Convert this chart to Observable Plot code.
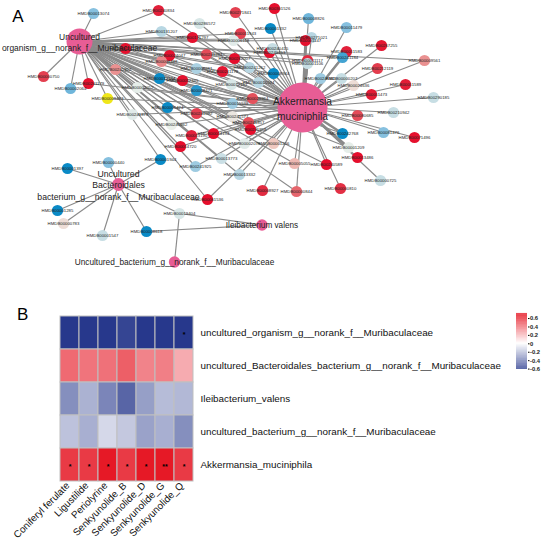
<!DOCTYPE html>
<html><head><meta charset="utf-8">
<script src="https://cdn.jsdelivr.net/npm/d3@7"></script>
<script src="https://cdn.jsdelivr.net/npm/@observablehq/plot@0.6"></script>
<style>
html,body{margin:0;padding:0;background:#fff}
#wrap{position:relative;width:550px;height:547px;overflow:hidden;font-family:"Liberation Sans",Arial,sans-serif}
#wrap svg{display:block;background:transparent;max-width:none}
#net,#heat,#leg{position:absolute}
#net{left:0;top:0}#heat{left:0;top:300px}#leg{left:510px;top:305px}
</style></head><body><div id="wrap"><div id="net"></div><div id="heat"></div><div id="leg"></div></div>
<script>
// Network hubs: layout position, size, label
const hubKeys=["A","U","B","I","C"];
const hubLabels=["Akkermansia\nmuciniphila","Uncultured\norganism_g__norank_f__Muribaculaceae","Uncultured\nBacteroidales\nbacterium_g__norank_f__Muribaculaceae","Ileibacterium valens","Uncultured_bacterium_g__norank_f__Muribaculaceae"];
const hubX=[302,79,118,261.5,174];
const hubY=[107,41,184,224.5,261.5];
const hubSize=[25,13,6.5,5.7,5.7];
const hubFontSize=[10.2,8.45,8.7,8.2,8.3];
const hubLineHeight=[1.47,1.3,1.32,1,1];
// Metabolite nodes
const metaboliteIds=["HMDB00013074","HMDB00240834","HMDB00271841","HMDB00301526","HMDB00286572","HMDB00131207","HMDB00011943","HMDB00001332","HMDB00131297","HMDB00006118","HMDB00241041","HMDB00024047","HMDB00001448","HMDB00241284","HMDB00262007","HMDB00240153","HMDB00240415","HMDB00241852","HMDB00008681","HMDB00241178","HMDB00241262","HMDB00008944","HMDB00012144","HMDB00052345","HMDB00008421","HMDB00002052","HMDB00012157","HMDB00015594","HMDB00241179","HMDB00000750","HMDB00002064","HMDB00009483","HMDB00029964","HMDB00015538","HMDB00006424","HMDB00241878","HMDB00241092","HMDB00241577","HMDB00241862","HMDB00241857","HMDB00241858","HMDB00013190","HMDB00014194","HMDB00014720","HMDB00002071","HMDB00001206","HMDB00001944","HMDB00000440","HMDB00001397","HMDB00013773","HMDB00241925","HMDB00013332","HMDB00008927","HMDB00061536","HMDB00001285","HMDB00000783","HMDB00001547","HMDB00008618","HMDB00019404","HMDB00005055","HMDB00000844","HMDB00240589","HMDB00000810","HMDB00013486","HMDB00000725","HMDB00001209","HMDB00008826","HMDB00011479","HMDB00271021","HMDB00001147","HMDB00011583","HMDB00241184","HMDB00267255","HMDB00009561","HMDB00011117","HMDB00001106","HMDB00212119","HMDB00241845","HMDB00000207","HMDB00024636","HMDB00011589","HMDB00011473","HMDB00290185","HMDB00080685","HMDB00210942","HMDB00242768","HMDB00081476","HMDB00071496"];
const layoutX=[93,158,235,274,199,161,240,270,192,233,125,169,161,206,234,269,272,115,196,222,249,273,159,182,196,137,231,258,88,43,70,107,252,232,167,132,196,232,171,248,250,191,213,180,244,273,160,108,67,221,195,239,262,207,57,63,102,146,179,294,296,326,340,357,380,348,308,346,311,305,346,342,381,424,307,307,377,320,341,353,405,371,433,357,393,342,383,414];
const layoutY=[13,10,12,8,23,31,33,28,37,40,48,55,61,54,58,52,48,69,68,71,67,73,78,80,90,87,84,82,83,76,88,98,98,103,107,114,113,116,124,122,129,135,133,146,143,143,159,162,168,158,166,174,190,199,210,223,235,231,213,163,191,164,188,157,180,147,18,27,37,40,51,57,45,60,60,63,68,78,78,85,84,94,97,115,112,133,132,137];
const metaboliteCorr=[-0.55,0.85,0.7,0.95,-0.1,-0.28,0.7,-1,0.95,-0.05,0.95,0.95,0.45,0.65,0.97,0.95,-0.2,0.42,-0.35,0.92,-0.28,-1,-1,0.95,-0.9,-0.03,-0.1,-0.28,0.95,0.7,-0.65,null,0.62,-0.42,-1,-0.05,0.7,0.06,0.0,0.62,0.97,0.85,0.97,0.97,-0.05,0.25,-1,-0.55,-1,-0.18,-0.42,-0.3,0.8,0.97,-1,0.12,-0.2,-1,-0.1,0.3,0.55,0.97,0.78,0.97,-0.2,-0.02,-0.65,-0.55,-0.28,0.95,0.85,-0.8,0.92,0.42,0.8,-0.2,0.72,-0.42,-0.2,0.12,0.88,0.88,-0.2,0.65,-0.2,-1,-0.55,0.95];
const metaboliteLinks=["U","AU","A","A","A","AU","AU","A","AU","AU","AU","AU","AU","AU","AU","AU","A","AU","AU","AU","AU","AU","AU","AU","AU","AU","AU","AU","AU","U","U","AU","AU","AU","AU","AU","AU","AU","AU","AU","AU","AU","AU","AU","AU","AU","UB","B","B","AU","AU","AU","A","AU","B","B","B","BI","BIC","AU","AU","AU","A","A","A","AU","A","A","AU","AU","A","AU","A","AU","AU","AU","A","A","A","A","A","A","A","A","A","AU","A","A"];
const strongLinks=["HMDB00242768","HMDB00011117","HMDB00001106","HMDB00001209","HMDB00241184","HMDB00001147"];
// Heatmap
const compounds=["Coniferyl ferulate","Ligustilide","Periolyrine","Senkyunolide_B","Senkyunolide_D","Senkyunolide_G","Senkyunolide_Q"];
const taxa=["uncultured_organism_g__norank_f__Muribaculaceae","uncultured_Bacteroidales_bacterium_g__norank_f__Muribaculaceae","Ileibacterium_valens","uncultured_bacterium_g__norank_f__Muribaculaceae","Akkermansia_muciniphila"];
const corrOrganism=[-0.62,-0.62,-0.62,-0.58,-0.62,-0.62,-0.62];
const corrBacteroidales=[0.41,0.38,0.39,0.44,0.34,0.35,0.23];
const corrIleibacterium=[-0.35,-0.24,-0.38,-0.48,-0.30,-0.21,-0.22];
const corrBacterium=[-0.19,-0.25,-0.12,-0.17,-0.29,-0.25,-0.35];
const corrAkkermansia=[0.54,0.54,0.63,0.54,0.63,0.63,0.54];
const starsOrganism=["","","","","","","*"];
const starsAkkermansia=["*","*","*","*","*","**","*"];
const legendTicks=[0.6,0.4,0.2,0,-0.2,-0.4,-0.6];

const font='"Liberation Sans",Arial,sans-serif';
const hubs=hubKeys.map((k,i)=>({k,label:hubLabels[i],x:hubX[i],y:hubY[i],size:hubSize[i],fs:hubFontSize[i],lh:hubLineHeight[i]}));
const hubBy=Object.fromEntries(hubs.map(h=>[h.k,h]));
const nodes=metaboliteIds.map((id,i)=>({id,x:layoutX[i],y:layoutY[i],v:metaboliteCorr[i],links:metaboliteLinks[i]}));
const edges=nodes.flatMap(n=>[...n.links].map(k=>({x1:n.x,y1:n.y,x2:hubBy[k].x,y2:hubBy[k].y,w:(k==="A"&&strongLinks.includes(n.id))?2.4:1.15})));

const net=Plot.plot({
  width:550,height:300,margin:0,style:{fontFamily:font,background:"transparent"},
  x:{domain:[0,550],range:[0,550],axis:null},
  y:{domain:[0,300],range:[0,300],axis:null},
  r:{type:"linear",domain:[0,25],range:[0,25]},
  color:{type:"linear",domain:[-1,-0.6,-0.25,0,0.25,0.6,0.85,1],range:["#0a8ac6","#7dbcde","#bed9e3","#eaf0ea","#f0c8c0","#e4565f","#e2203a","#e60a28"],unknown:"#efe61a"},
  marks:[
    Plot.link(edges,{x1:"x1",y1:"y1",x2:"x2",y2:"y2",stroke:"#8a8a8a",strokeWidth:"w"}),
    Plot.dot(hubs,{x:"x",y:"y",r:"size",fill:"#e85d95"}),
    Plot.dot(nodes,{x:"x",y:"y",r:5.6,fill:"v"}),
    Plot.text(nodes,{x:"x",y:"y",text:"id",fontSize:4.3,fill:"#222"}),
    ...hubs.map(h=>Plot.text([h],{x:"x",y:"y",text:"label",fontSize:h.fs,fill:"#222",lineHeight:h.lh})),
    Plot.text(["A"],{x:[17.5],y:[16],text:d=>d,fontSize:17,fill:"#000"})
  ]
});
document.getElementById("net").append(net);

const corrRows=[corrOrganism,corrBacteroidales,corrIleibacterium,corrBacterium,corrAkkermansia];
const cells=taxa.flatMap((t,r)=>compounds.map((c,i)=>({t,c,v:corrRows[r][i],s:r===0?starsOrganism[i]:r===4?starsAkkermansia[i]:""})));
const colorOpts={type:"linear",domain:[-0.62,0,0.65],range:["#27388c","#ffffff","#e5121f"],clamp:true};

const heat=Plot.plot({
  width:550,height:247,marginLeft:57.5,marginRight:355,marginTop:15.5,marginBottom:66.5,
  style:{fontFamily:font,background:"transparent"},
  x:{domain:compounds,padding:0,axis:null},
  y:{domain:taxa,padding:0,axis:null},
  color:colorOpts,
  marks:[
    Plot.cell(cells,{x:"c",y:"t",fill:"v",stroke:"#bfbfbf",strokeWidth:1}),
    Plot.text(cells.filter(d=>d.s),{x:"c",y:"t",text:"s",fontSize:7,dy:2,fontWeight:"bold",fill:"#000"}),
    Plot.axisY({anchor:"right",tickSize:0,tickPadding:5,fontSize:9.85,textAnchor:"start",fill:"#111",label:null,lineWidth:Infinity}),
    Plot.axisX({anchor:"bottom",tickSize:0,tickPadding:3,fontSize:9.85,tickRotate:-45,fill:"#111",label:null,lineWidth:Infinity,dx:-2}),
    Plot.text(["B"],{frameAnchor:"top-left",dx:-41,dy:-8,text:d=>d,fontSize:17,fill:"#000"})
  ]
});
document.getElementById("heat").append(heat);

const ramp=d3.range(-0.61,0.72,0.01);
const leg=Plot.plot({
  width:38,height:72,marginLeft:6,marginRight:21,marginTop:8,marginBottom:8,
  style:{fontFamily:font,background:"transparent"},
  x:{domain:[0,1],axis:null},
  y:{domain:[-0.61,0.72]},
  color:colorOpts,
  marks:[
    Plot.rect(ramp,{x1:0,x2:1,y1:d=>d,y2:d=>d+0.011,fill:d=>d}),
    Plot.axisY({anchor:"right",ticks:legendTicks,tickSize:1.5,tickPadding:1,fontSize:5.8,fontWeight:"bold",fill:"#222",label:null,tickFormat:d=>String(d)})
  ]
});
document.getElementById("leg").append(leg);
</script></body></html>
